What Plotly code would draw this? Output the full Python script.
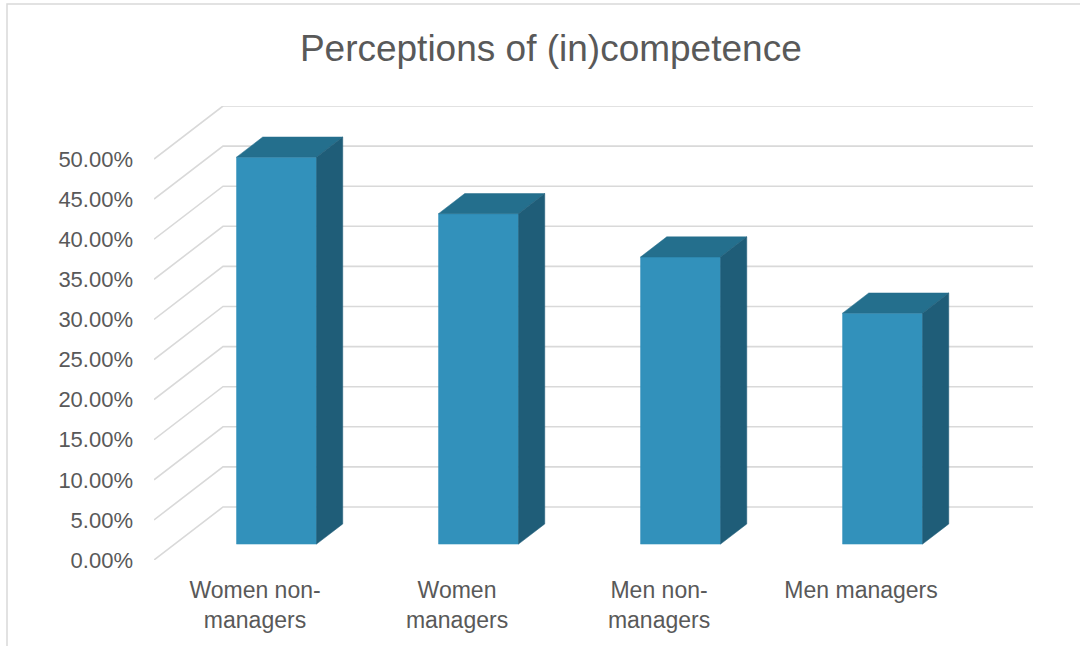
import plotly.graph_objects as go

# ---- data ----
categories = ["Women non-managers", "Women managers", "Men non-managers", "Men managers"]
category_labels = ["Women non-<br>managers", "Women<br>managers", "Men non-<br>managers", "Men managers"]
values = [0.4825, 0.412, 0.358, 0.288]
tick_values = [0.0, 0.05, 0.10, 0.15, 0.20, 0.25, 0.30, 0.35, 0.40, 0.45, 0.50]
title_text = "Perceptions of (in)competence"

# ---- styling / pseudo-3D geometry (in axis units) ----
FRONT = "#3291BB"
TOP = "#246F8D"
SIDE = "#1F5D78"
GRID = "#D9D9D9"
TEXT = "#595959"
FONT = "Liberation Sans, Arial, sans-serif"

depth_x = 0.3416      # depth offset in category units
depth_y = 0.0661      # depth offset in value units
f1, f2 = 0.30, 0.68   # bar front/back depth fractions
half_w = 0.198        # half bar width in category units
x_max = len(categories) + depth_x + 0.0096
y_max = max(tick_values) + depth_y

fig = go.Figure()

# gridlines: diagonal side-wall + back-wall horizontal
for t in tick_values:
    fig.add_trace(go.Scatter(
        x=[0, depth_x, x_max], y=[t, t + depth_y, t + depth_y],
        mode="lines", line=dict(color=GRID, width=1.6),
        hoverinfo="skip", showlegend=False))

# bars
ddx = (f2 - f1) * depth_x
ddy = (f2 - f1) * depth_y
for i, v in enumerate(values):
    cx = i + 0.5 + f1 * depth_x + 0.004
    y0 = f1 * depth_y
    xl, xr = cx - half_w, cx + half_w
    yt = y0 + v
    polys = [
        ([xl, xr, xr, xl, xl], [y0, y0, yt, yt, y0], FRONT),
        ([xl, xr, xr + ddx, xl + ddx, xl], [yt, yt, yt + ddy, yt + ddy, yt], TOP),
        ([xr, xr + ddx, xr + ddx, xr, xr], [y0, y0 + ddy, yt + ddy, yt, y0], SIDE),
    ]
    for px, py, col in polys:
        fig.add_trace(go.Scatter(
            x=px, y=py, mode="lines", fill="toself", fillcolor=col,
            line=dict(color=col, width=0.5), hoverinfo="skip", showlegend=False,
            name=categories[i]))

fig.update_layout(
    width=1080, height=646, autosize=False,
    margin=dict(l=154, r=47, t=106, b=86),
    paper_bgcolor="white", plot_bgcolor="white",
    font=dict(family=FONT, color=TEXT),
    title=dict(text=title_text, x=0.51, xanchor="center", xref="container",
               y=0.925, yanchor="middle", yref="container",
               font=dict(size=37, color=TEXT, family=FONT)),
    xaxis=dict(range=[0, x_max], showgrid=False, zeroline=False, showline=False,
               tickvals=[i + 0.5 for i in range(len(categories))],
               ticktext=category_labels, ticks="", ticklabelstandoff=14,
               tickfont=dict(size=23, color=TEXT, family=FONT), fixedrange=True),
    yaxis=dict(range=[0, y_max], showgrid=False, zeroline=False, showline=False,
               tickvals=tick_values, tickformat=".2%", ticks="",
               ticklabelstandoff=20,
               tickfont=dict(size=22, color=TEXT, family=FONT), fixedrange=True),
    shapes=[dict(type="rect", xref="paper", yref="paper",
                 x0=(7 - 154) / 879, x1=2.0, y0=-2.0, y1=(560 - 4) / 454,
                 line=dict(color=GRID, width=1.5), fillcolor="rgba(0,0,0,0)",
                 layer="below")],
)

fig.write_html("out.html")
